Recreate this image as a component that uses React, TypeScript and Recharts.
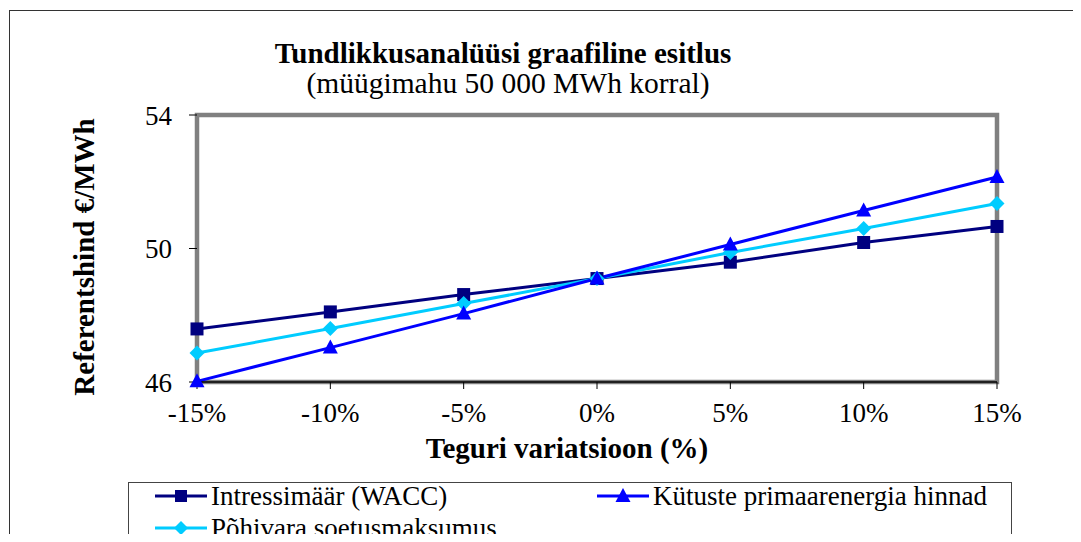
import React from 'react';
import { LineChart, Line, XAxis, YAxis, Legend, ReferenceArea, Customized } from 'recharts';

const variations = [-15, -10, -5, 0, 5, 10, 15];
const wacc = [47.59, 48.1, 48.62, 49.1, 49.59, 50.18, 50.66];
const fuel = [46.02, 47.03, 48.05, 49.1, 50.12, 51.14, 52.14];
const assets = [46.87, 47.6, 48.35, 49.1, 49.88, 50.6, 51.35];
const yTicks = [46, 50, 54];

const data = variations.map((x, i) => ({ x, wacc: wacc[i], fuel: fuel[i], assets: assets[i] }));

const FONT = "'Liberation Serif', serif";
const NAVY = '#000080';
const BLUE = '#0000FF';
const CYAN = '#00CCFF';

const Square = (props: any) => {
  const { cx, cy } = props;
  if (cx == null || cy == null) return null;
  return <rect x={cx - 6.5} y={cy - 6.5} width={13} height={13} fill={NAVY} />;
};

const Triangle = (props: any) => {
  const { cx, cy } = props;
  if (cx == null || cy == null) return null;
  return <polygon points={`${cx},${cy - 8} ${cx - 7.5},${cy + 6} ${cx + 7.5},${cy + 6}`} fill={BLUE} />;
};

const Diamond = (props: any) => {
  const { cx, cy } = props;
  if (cx == null || cy == null) return null;
  return <polygon points={`${cx},${cy - 7.5} ${cx + 7.5},${cy} ${cx},${cy + 7.5} ${cx - 7.5},${cy}`} fill={CYAN} />;
};

const LegendIcon = ({ color, shape }: { color: string; shape: string }) => (
  <svg width={52} height={20} style={{ display: 'block' }}>
    <line x1={0} y1={10} x2={52} y2={10} stroke={color} strokeWidth={3} />
    {shape === 'square' && <rect x={20} y={4} width={12} height={12} fill={color} />}
    {shape === 'triangle' && <polygon points="26,2 18.5,16 33.5,16" fill={color} />}
    {shape === 'diamond' && <polygon points="26,3 33,10 26,17 19,10" fill={color} />}
  </svg>
);

const legendItems = [
  { label: 'Intressimäär (WACC)', color: NAVY, shape: 'square', left: 26, top: 0 },
  { label: 'Kütuste primaarenergia hinnad', color: BLUE, shape: 'triangle', left: 468, top: 0 },
  { label: 'Põhivara soetusmaksumus', color: CYAN, shape: 'diamond', left: 26, top: 32 },
];

const CustomLegend = () => (
  <div style={{ position: 'relative', width: '100%', height: '100%' }}>
    {legendItems.map((it) => (
      <div
        key={it.label}
        style={{ position: 'absolute', left: it.left, top: it.top, display: 'flex', alignItems: 'center', fontFamily: FONT, fontSize: 27, color: '#000', whiteSpace: 'nowrap', lineHeight: '26px', height: 26 }}
      >
        <LegendIcon color={it.color} shape={it.shape} />
        <span style={{ marginLeft: 4 }}>{it.label}</span>
      </div>
    ))}
  </div>
);

const txt = { fontFamily: FONT, fill: '#000' };

const Texts = () => (
  <g>
    <text x={503} y={63} textAnchor="middle" fontSize={29} fontWeight="bold" style={txt}>Tundlikkusanalüüsi graafiline esitlus</text>
    <text x={508} y={93} textAnchor="middle" fontSize={29.5} style={txt}>(müügimahu 50 000 MWh korral)</text>
    <text x={567} y={458} textAnchor="middle" fontSize={29} fontWeight="bold" style={txt}>Teguri variatsioon (%)</text>
    <text x={0} y={0} transform="translate(94,257) rotate(-90)" textAnchor="middle" fontSize={29} fontWeight="bold" style={txt}>Referentshind €/MWh</text>
  </g>
);

export default function App() {
  return (
    <div style={{ position: 'relative', width: 1081, height: 542, margin: -8, overflow: 'hidden', background: '#fff', fontFamily: FONT }}>
      <div style={{ position: 'absolute', left: 9, top: 10, width: 1200, height: 800, border: '1px solid #333' }} />
      <div style={{ position: 'absolute', left: 0, top: 0 }}>
        <LineChart width={1081} height={542} data={data} margin={{ top: 115, right: 84, bottom: 40, left: 0 }}>
          <ReferenceArea x1={-15} x2={15} y1={46} y2={54} fill="none" stroke="#808080" strokeWidth={4.5} ifOverflow="visible" />
          <XAxis
            dataKey="x"
            type="number"
            domain={[-15, 15]}
            ticks={variations}
            tickFormatter={(v: number) => `${v}%`}
            height={60}
            axisLine={{ stroke: '#000', strokeWidth: 1.5 }}
            tickLine={{ stroke: '#000' }}
            tickSize={7}
            tickMargin={14}
            tick={{ fontFamily: FONT, fontSize: 27, fill: '#000' }}
            interval={0}
          />
          <YAxis
            type="number"
            domain={[46, 54]}
            ticks={yTicks}
            width={197}
            axisLine={false}
            tickLine={{ stroke: '#000' }}
            tickSize={8}
            tickMargin={17}
            tick={{ fontFamily: FONT, fontSize: 27, fill: '#000' }}
            interval={0}
          />
          <Legend
            content={<CustomLegend />}
            wrapperStyle={{ position: 'absolute', left: 128, top: 482, width: 884, height: 60, borderTop: '1px solid #444', borderLeft: '1px solid #444', borderRight: '1px solid #444', background: '#fff', boxSizing: 'border-box' }}
          />
          <Line dataKey="wacc" stroke={NAVY} strokeWidth={3} dot={<Square />} activeDot={false} isAnimationActive={false} />
          <Line dataKey="assets" stroke={CYAN} strokeWidth={3} dot={<Diamond />} activeDot={false} isAnimationActive={false} />
          <Line dataKey="fuel" stroke={BLUE} strokeWidth={3} dot={<Triangle />} activeDot={false} isAnimationActive={false} />
          <Customized component={<Texts />} />
        </LineChart>
      </div>
    </div>
  );
}
